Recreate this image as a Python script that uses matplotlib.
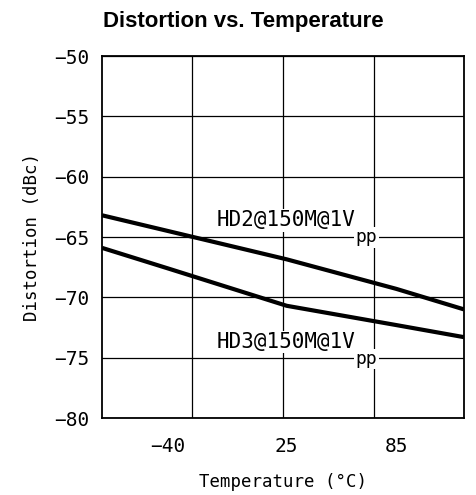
import numpy as np
from matplotlib import pyplot as plt

# temperatures (degC) and distortion (dBc)
temps = [-76, -40, 25, 85, 122]
hd2 = [-63.2, -64.5, -66.85, -69.3, -71.0]
hd3 = [-65.9, -67.6, -70.7, -72.3, -73.3]

x_ticks = [-40, 25, 85]
y_ticks = [-80, -75, -70, -65, -60, -55, -50]

hd2_label = "HD2@150M@1V"
hd3_label = "HD3@150M@1V"
label_pos_hd2 = (-13.3, -64.1)
label_pos_hd3 = (-13.3, -74.2)


def add_label(ax, pos, text):
    main = ax.text(pos[0], pos[1], text, fontsize=15, family='DejaVu Sans Mono',
                   va='baseline', ha='left', zorder=4,
                   bbox=dict(facecolor='white', edgecolor='none', pad=1))
    ax.annotate("pp", xy=(1, 0.1), xycoords=main, fontsize=13, family='DejaVu Sans Mono',
                va='top', ha='left', zorder=4,
                bbox=dict(facecolor='white', edgecolor='none', pad=1))


def main():
    fig = plt.figure(figsize=(4.77, 4.95), dpi=100)
    ax = fig.add_axes([102 / 477, 77 / 495, 362 / 477, 362 / 495])

    xmin, xmax = -76, 122
    ax.set_xlim(xmin, xmax)
    ax.set_ylim(-80, -50)

    ax.plot(temps, hd2, color='black', lw=3.0, zorder=3, solid_capstyle='butt')
    ax.plot(temps, hd3, color='black', lw=3.0, zorder=3, solid_capstyle='butt')

    # grid: 4 equal divisions in x, every 5 dB in y
    ax.set_xticks(x_ticks)
    ax.set_xticks(np.linspace(xmin, xmax, 5)[1:-1], minor=True)
    ax.set_yticks(y_ticks)
    ax.grid(True, which='minor', axis='x', color='black', lw=0.9)
    ax.grid(True, which='major', axis='y', color='black', lw=0.9)

    ax.tick_params(axis='both', which='both', length=0)
    ax.tick_params(axis='y', pad=9)
    ax.tick_params(axis='x', pad=14)
    for lab in ax.get_xticklabels() + ax.get_yticklabels():
        lab.set_family('DejaVu Sans Mono')
        lab.set_fontsize(14)

    for sp in ax.spines.values():
        sp.set_linewidth(1.3)

    add_label(ax, label_pos_hd2, hd2_label)
    add_label(ax, label_pos_hd3, hd3_label)

    ax.set_xlabel('Temperature (°C)', family='DejaVu Sans Mono', fontsize=12.5, va='center')
    ax.xaxis.set_label_coords(0.5, -0.177)
    ax.set_ylabel('Distortion (dBc)', family='DejaVu Sans Mono', fontsize=12.5, va='center')
    ax.yaxis.set_label_coords(-0.193, 0.5)

    fig.text(243 / 477, 1 - 21 / 495, 'Distortion vs. Temperature', ha='center', va='center',
             family='Liberation Sans', fontweight='bold', fontsize=16)

    plt.savefig('out.png', dpi=100)


if __name__ == '__main__':
    main()
